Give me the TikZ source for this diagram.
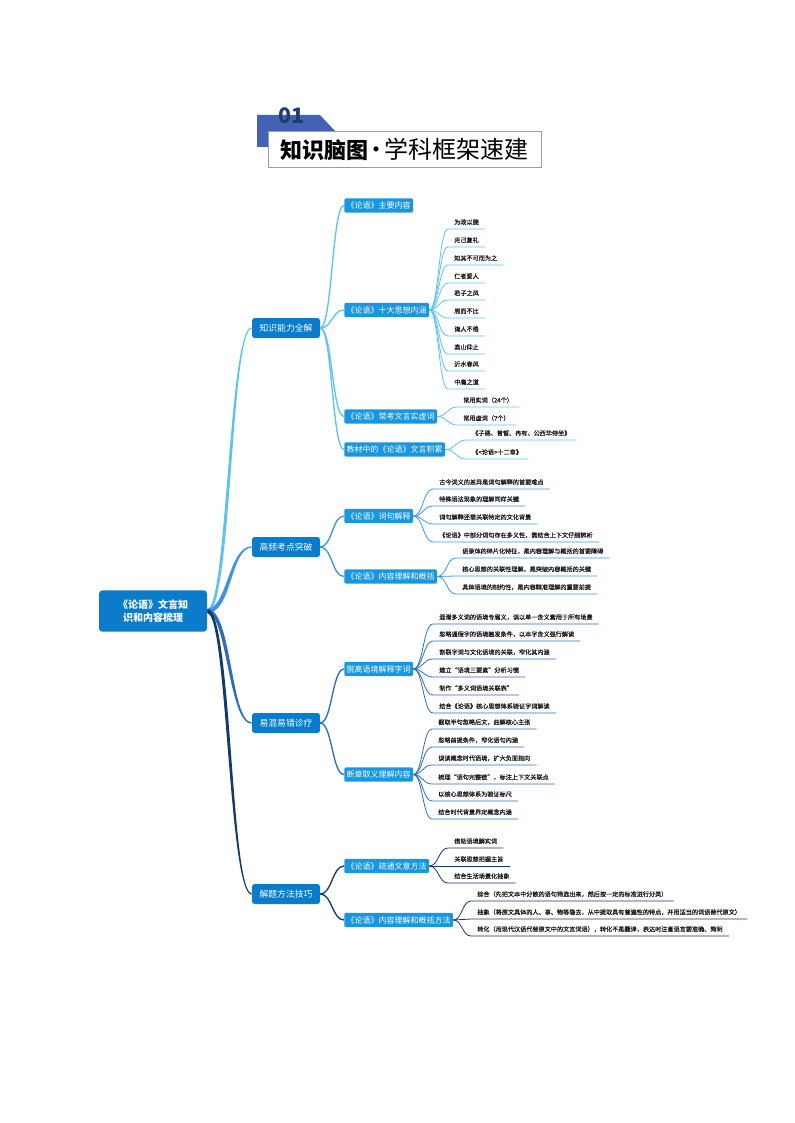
\documentclass[tikz,border=0pt]{standalone}
\usepackage{fontspec}
\setmainfont{Noto Sans CJK SC}
\newfontfamily\leaffont[FakeBold=0.35]{Noto Sans CJK SC}
\usetikzlibrary{calc}
\pgfdeclarelayer{bg}
\pgfsetlayers{bg,main}
\definecolor{rootblue}{HTML}{0B7CCB}
\definecolor{boxblue}{HTML}{1896E0}
\definecolor{ca}{HTML}{5BC3EE}
\definecolor{cb}{HTML}{3C95E2}
\definecolor{cc}{HTML}{2C6DBA}
\definecolor{cd}{HTML}{123B6C}
\definecolor{hdrblue}{HTML}{4263B3}
\definecolor{hdrnavy}{HTML}{1E3B75}
\definecolor{leaftext}{HTML}{1A1A1A}

\newcommand\taper[4]{%
 \fill[#3] let \p1=(#1), \p2=(#2) in
 (\x1,{\y1+1.6pt}) .. controls ({(\x1+\x2)/2-(#4)*1.8pt},{\y1+1.6pt}) and ({(\x1+\x2)/2-(#4)*0.8pt},{\y2+0.55pt}) .. (\x2,{\y2+0.55pt})
 -- (\x2,{\y2-0.55pt}) .. controls ({(\x1+\x2)/2+(#4)*0.8pt},{\y2-0.55pt}) and ({(\x1+\x2)/2+(#4)*1.8pt},{\y1-1.6pt}) .. (\x1,{\y1-1.6pt}) -- cycle;}
\newcommand\conn[3]{\draw[#3] let \p1=(#1.east), \p2=(#2.west) in (\p1) .. controls ({(\x1+\x2)/2},\y1) and ({(\x1+\x2)/2},\y2) .. (\p2);}
\newcommand\lconn[3]{\draw[#3] let \p1=(#1.east), \p2=(#2.south west) in (\p1) .. controls ({(\x1+\x2)/2},\y1) and ({(\x1+\x2)/2},\y2) .. (\p2) -- (#2.south east);}

\begin{document}
\begin{tikzpicture}[x=0.75pt,y=-0.75pt,
  rootbox/.style={fill=rootblue, rounded corners=2.5pt, text=white, font=\fontsize{7.5}{10}\selectfont\bfseries, minimum width=81pt, minimum height=31pt, align=center, inner sep=0pt},
  lonebox/.style={fill=rootblue, rounded corners=2pt, text=white, font=\fontsize{6.6}{8}\selectfont, minimum width=51pt, minimum height=15pt, inner sep=0pt},
  ltwobox/.style={fill=boxblue, rounded corners=1.5pt, text=white, font=\fontsize{6}{7}\selectfont, minimum height=10.8pt, inner xsep=1.8pt, inner ysep=0pt, anchor=west},
  leaf/.style={font=\leaffont\fontsize{4.6}{5.5}\selectfont, text=leaftext, anchor=south west, inner xsep=4.5pt, inner ysep=2.3pt, text height=3.6pt, text depth=0.9pt},
  sa/.style={draw=ca, line width=1pt}, la/.style={draw=ca, line width=0.6pt},
  sb/.style={draw=cb, line width=1pt}, lb/.style={draw=cb, line width=0.6pt},
  sc/.style={draw=cc, line width=1pt}, lc/.style={draw=cc, line width=0.6pt},
  sd/.style={draw=cd, line width=1pt}, ld/.style={draw=cd, line width=0.6pt},
  titlebox/.style={draw={rgb,255:red,150;green,156;blue,180}, line width=0.6pt, fill=white, minimum width=204.75pt, minimum height=27pt, inner sep=0pt, font=\fontsize{18}{20}\selectfont}
]
\useasboundingbox (0,0) rectangle (794,1123);

% header
\fill[hdrblue] (257,115) -- (320,115) -- (335,131) -- (268,131) -- (268,147) -- (257,147) -- cycle;
\node[font=\fontsize{16}{16}\selectfont\bfseries, text=hdrnavy, inner sep=0pt] (num) at (291,116) {01};
\node[titlebox] (title) at (404.5,149) {{\fontsize{16.5}{18}\selectfont\bfseries 知识脑图}\makebox[12pt]{·}学科框架速建};

% root and level 1
\node[rootbox] (root) at (153,611) {《论语》文言知\\识和内容梳理};
\node[lonebox] (A) at (286,328) {知识能力全解};
\node[lonebox] (B) at (286,547) {高频考点突破};
\node[lonebox] (C) at (286,723) {易混易错诊疗};
\node[lonebox] (D) at (286,894) {解题方法技巧};

% level 2
\node[ltwobox] (A1) at (344,205.5) {《论语》主要内容};
\node[ltwobox] (A2) at (344,310) {《论语》十大思想内涵};
\node[ltwobox] (A3) at (344,416.5) {《论语》常考文言实虚词};
\node[ltwobox] (A4) at (344,449.5) {教材中的《论语》文言积累};
\node[ltwobox] (B1) at (344,516) {《论语》词句解释};
\node[ltwobox] (B2) at (344,576.5) {《论语》内容理解和概括};
\node[ltwobox] (C1) at (344,669) {脱离语境解释字词};
\node[ltwobox] (C2) at (344,774.5) {断章取义理解内容};
\node[ltwobox] (D1) at (344,866) {《论语》疏通文意方法};
\node[ltwobox] (D2) at (344,920) {《论语》内容理解和概括方法};

% leaves A2
\node[leaf] (a21) at (448,229) {为政以德};
\node[leaf] (a22) at (448,247) {克己复礼};
\node[leaf] (a23) at (448,265) {知其不可而为之};
\node[leaf] (a24) at (448,283) {仁者爱人};
\node[leaf] (a25) at (448,300) {君子之风};
\node[leaf] (a26) at (448,318) {周而不比};
\node[leaf] (a27) at (448,336) {诲人不倦};
\node[leaf] (a28) at (448,354) {高山仰止};
\node[leaf] (a29) at (448,371) {沂水春风};
\node[leaf] (a30) at (448,389) {中庸之道};
% leaves A3, A4
\node[leaf] (a31) at (457,407) {常用实词（24个）};
\node[leaf] (a32) at (457,425) {常用虚词（7个）};
\node[leaf] (a41) at (466,440) {《子路、曾皙、冉有、公西华侍坐》};
\node[leaf] (a42) at (466,459) {《<论语>十二章》};
% leaves B
\node[leaf] (b11) at (433,489) {古今词义的差异是词句解释的首要难点};
\node[leaf] (b12) at (433,506) {特殊语法现象的理解同样关键};
\node[leaf] (b13) at (433,524) {词句解释还需关联特定的文化背景};
\node[leaf] (b14) at (433,542) {《论语》中部分词句存在多义性，需结合上下文仔细辨析};
\node[leaf] (b21) at (456,558) {语录体的碎片化特征，是内容理解与概括的首要障碍};
\node[leaf] (b22) at (456,576) {核心思想的关联性理解，是突破内容概括的关键};
\node[leaf] (b23) at (456,594) {具体语境的制约性，是内容精准理解的重要前提};
% leaves C
\node[leaf] (c11) at (433,624) {混淆多义词的语境专属义，误以单一含义套用于所有场景};
\node[leaf] (c12) at (433,641) {忽略通假字的语境触发条件，以本字含义强行解读};
\node[leaf] (c13) at (433,659) {割裂字词与文化语境的关联，窄化其内涵};
\node[leaf] (c14) at (433,677) {建立“语境三要素”分析习惯};
\node[leaf] (c15) at (433,695) {制作“多义词语境关联表”};
\node[leaf] (c16) at (433,713) {结合《论语》核心思想体系验证字词解读};
\node[leaf] (c21) at (432,729) {截取半句忽略后文，曲解核心主张};
\node[leaf] (c22) at (432,747) {忽略前提条件，窄化语句内涵};
\node[leaf] (c23) at (432,765) {误读概念时代语境，扩大负面指向};
\node[leaf] (c24) at (432,784) {梳理“语句完整链”，标注上下文关联点};
\node[leaf] (c25) at (432,801) {以核心思想体系为验证标尺};
\node[leaf] (c26) at (432,819) {结合时代背景界定概念内涵};
% leaves D
\node[leaf] (d11) at (448,848) {借助语境解实词};
\node[leaf] (d12) at (448,866) {关联思想把握主旨};
\node[leaf] (d13) at (448,883) {结合生活场景化抽象};
\node[leaf] (d21) at (471,901) {综合（先把文本中分散的语句筛选出来，然后按一定的标准进行分类）};
\node[leaf] (d22) at (471,919) {抽象（将原文具体的人、事、物等隐去，从中提取具有普遍性的特点，并用适当的词语替代原文）};
\node[leaf] (d23) at (471,936) {转化（用现代汉语代替原文中的文言词语），转化不是翻译，表达时注意语言要准确、简明};

\begin{pgfonlayer}{bg}
% level 1 connectors (tapered)
\taper{root.east}{A.west}{ca}{1}
\taper{root.east}{B.west}{cb}{1}
\taper{root.east}{C.west}{cc}{-1}
\taper{root.east}{D.west}{cd}{-1}
% level 2 connectors
\conn{A}{A1}{sa} \conn{A}{A2}{sa} \conn{A}{A3}{sa} \conn{A}{A4}{sa}
\conn{B}{B1}{sb} \conn{B}{B2}{sb}
\conn{C}{C1}{sc} \conn{C}{C2}{sc}
\conn{D}{D1}{sd} \conn{D}{D2}{sd}
% leaf connectors
\foreach \l in {a21,a22,a23,a24,a25,a26,a27,a28,a29,a30}{\lconn{A2}{\l}{la}}
\foreach \l in {a31,a32}{\lconn{A3}{\l}{la}}
\foreach \l in {a41,a42}{\lconn{A4}{\l}{la}}
\foreach \l in {b11,b12,b13,b14}{\lconn{B1}{\l}{lb}}
\foreach \l in {b21,b22,b23}{\lconn{B2}{\l}{lb}}
\foreach \l in {c11,c12,c13,c14,c15,c16}{\lconn{C1}{\l}{lc}}
\foreach \l in {c21,c22,c23,c24,c25,c26}{\lconn{C2}{\l}{lc}}
\foreach \l in {d11,d12,d13}{\lconn{D1}{\l}{ld}}
\foreach \l in {d21,d22,d23}{\lconn{D2}{\l}{ld}}
\end{pgfonlayer}
\end{tikzpicture}
\end{document}
